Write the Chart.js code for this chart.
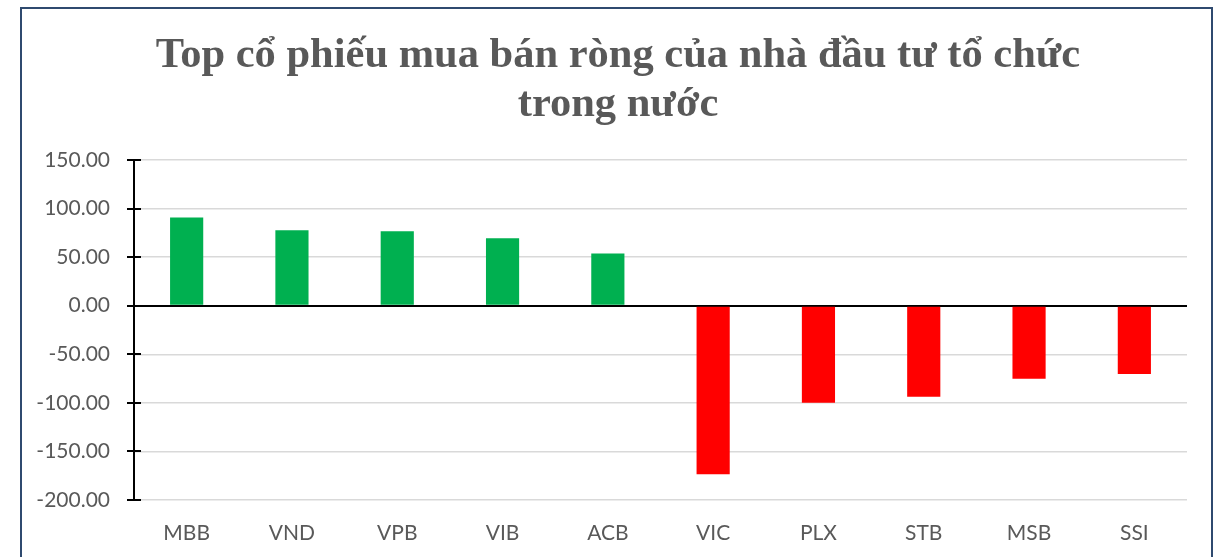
<!DOCTYPE html>
<html>
<head>
<meta charset="utf-8">
<script src="https://cdn.jsdelivr.net/npm/chart.js@4.4.0/dist/chart.umd.min.js"></script>
<style>
  html, body { margin: 0; padding: 0; background: #fff; }
  #wrap { position: relative; width: 1221px; height: 557px; overflow: hidden; }
  #frame { position: absolute; left: 20px; top: 7px; width: 1193px; height: 600px; border: 2px solid #2f4a6f; box-sizing: border-box; pointer-events: none; }
  canvas { position: absolute; left: 0; top: 0; }
</style>
</head>
<body>
<div id="wrap">
  <canvas id="c" width="1221" height="557"></canvas>
  <div id="frame"></div>
</div>
<script>
const titleLines = ["Top cổ phiếu mua bán ròng của nhà đầu tư tổ chức", "trong nước"];
const categories = ["MBB", "VND", "VPB", "VIB", "ACB", "VIC", "PLX", "STB", "MSB", "SSI"];
const netValues = [90.7, 77.7, 76.7, 69.5, 53.8, -173.6, -100.0, -93.8, -75.3, -70.2];
const yMin = -200, yMax = 150, yStep = 50;

const barColors = netValues.map(v => v >= 0 ? '#00b050' : '#ff0000');

const crossTicks = {
  id: 'crossTicks',
  afterLayout(chart) {
    if (chart.titleBlock) {
      chart.titleBlock.left = 49;
    }
  },
  afterDraw(chart) {
    const y = chart.scales.y;
    const ctx = chart.ctx;
    const x0 = chart.chartArea.left;
    ctx.save();
    ctx.strokeStyle = '#000';
    ctx.lineWidth = 2;
    y.ticks.forEach(t => {
      const py = Math.round(y.getPixelForValue(t.value));
      ctx.beginPath();
      ctx.moveTo(x0 - 7, py);
      ctx.lineTo(x0 + 7, py);
      ctx.stroke();
    });
    ctx.restore();
  }
};

new Chart(document.getElementById('c'), {
  type: 'bar',
  data: {
    labels: categories,
    datasets: [{
      data: netValues,
      backgroundColor: barColors,
      borderWidth: 0,
      categoryPercentage: 1.0,
      barPercentage: 0.315
    }]
  },
  options: {
    responsive: false,
    animation: false,
    devicePixelRatio: 1,
    layout: { padding: { left: 0, right: 34, top: 0, bottom: 0 } },
    plugins: {
      legend: { display: false },
      tooltip: { enabled: false },
      title: {
        display: true,
        text: titleLines,
        color: '#595959',
        font: { family: '"Liberation Serif", "Times New Roman", serif', size: 42.5, weight: 'bold', lineHeight: '49px' },
        padding: { top: 32, bottom: 30 }
      }
    },
    scales: {
      x: {
        grid: { display: false, drawTicks: false },
        border: { display: false },
        ticks: {
          color: '#595959',
          font: { family: 'Lato, "Noto Sans", sans-serif', size: 21 },
          padding: 21,
          maxRotation: 0
        },
        afterFit(s) { s.height = 57; }
      },
      y: {
        min: yMin,
        max: yMax,
        grid: {
          drawTicks: false,
          tickLength: 0,
          color: ctx => ctx.tick && ctx.tick.value === 0 ? '#000000' : '#d9d9d9',
          lineWidth: ctx => ctx.tick && ctx.tick.value === 0 ? 2 : 1.5
        },
        border: { display: true, color: '#000', width: 2 },
        ticks: {
          stepSize: yStep,
          color: '#595959',
          font: { family: 'Lato, "Noto Sans", sans-serif', size: 21 },
          padding: 24,
          callback: v => Number(v).toFixed(2)
        },
        afterFit(s) { s.width = 134; }
      }
    }
  },
  plugins: [crossTicks]
});
</script>
</body>
</html>
